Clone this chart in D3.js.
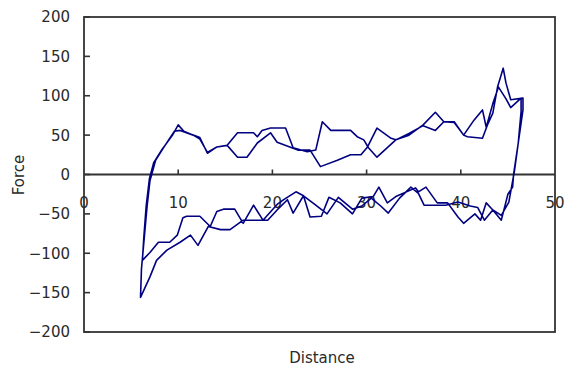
<!DOCTYPE html>
<html>
<head>
<meta charset="utf-8">
<script src="https://cdn.jsdelivr.net/npm/d3@7"></script>
<style>
    body { margin: 0; background: #fff; }
    text { font-family: "DejaVu Sans", sans-serif; font-size: 15px; fill: #2a2a2a; }
</style>
</head>
<body>
<div class="chart"></div>
<script>
const width = 567
const height = 367

// first push out, then back
const outDistance1 = [6.2, 6.35, 6.6, 6.95, 7.4, 8.3, 9.4, 10.0, 10.6, 11.6, 12.3, 13.1, 14.1, 15.2, 16.3, 18.0, 18.4, 18.9, 19.8, 21.4, 22.2, 23.7, 24.6, 25.3, 26.2, 28.3, 29.0, 29.7, 30.2, 31.1, 33.1, 34.5, 36.0, 37.3, 38.2, 39.3, 40.3, 41.4, 42.3, 42.7, 43.4, 44.0, 44.8, 45.3, 46.4, 46.4]
const outForce1 = [-109, -80, -40, -5, 15, 32, 50, 63, 55, 50, 47, 27, 35, 37, 53, 53, 48, 56, 59, 59, 34, 29, 31, 67, 56, 56, 48, 44, 34, 22, 44, 50, 63, 79, 67, 67, 50, 69, 82, 60, 90, 111, 96, 85, 97, 80]
const backDistance1 = [46.1, 45.6, 45.5, 45.0, 44.3, 43.4, 42.7, 42.1, 41.5, 40.3, 39.7, 38.6, 37.5, 36.3, 35.5, 35.2, 33.1, 32.2, 31.3, 30.7, 29.5, 28.5, 27.2, 26.0, 25.2, 24.0, 23.3, 22.2, 21.6, 20.5, 19.5, 18.0, 16.9, 15.5, 14.5, 13.2, 12.1, 11.3, 10.2, 8.8, 7.7, 7.0, 6.0]
const backForce1 = [40, 0, -16, -25, -58, -45, -36, -58, -50, -62, -54, -36, -36, -16, -22, -17, -28, -36, -16, -28, -30, -50, -36, -29, -53, -54, -27, -49, -32, -45, -58, -58, -58, -70, -70, -66, -90, -77, -86, -96, -109, -130, -156]

// second push out, then back
const outDistance2 = [6.1, 6.4, 6.7, 7.0, 7.6, 8.5, 9.6, 10.2, 11.6, 12.3, 13.1, 14.1, 15.2, 16.3, 17.3, 18.4, 19.8, 20.5, 22.7, 24.0, 25.1, 26.9, 28.3, 29.4, 30.1, 31.1, 32.6, 33.1, 34.5, 36.0, 37.3, 38.2, 39.3, 40.3, 40.7, 42.3, 42.9, 43.4, 43.9, 44.5, 44.8, 45.3, 46.6, 46.6]
const outForce2 = [-120, -80, -40, -8, 18, 35, 55, 56, 50, 45, 28, 35, 37, 22, 22, 40, 53, 41, 31, 31, 10, 18, 25, 25, 35, 59, 46, 44, 52, 62, 56, 67, 66, 50, 48, 46, 65, 78, 111, 135, 116, 95, 97, 82]
const backDistance2 = [46.1, 45.7, 45.4, 45.1, 44.3, 43.4, 42.5, 41.8, 41.0, 39.7, 38.4, 36.1, 35.5, 34.7, 33.5, 32.3, 31.5, 30.5, 29.5, 28.5, 27.0, 25.8, 24.5, 23.3, 22.5, 21.2, 20.5, 19.0, 18.0, 16.9, 16.0, 14.8, 14.1, 13.4, 12.3, 10.9, 10.5, 9.9, 9.1, 7.9, 7.0, 6.2]
const backForce2 = [40, 5, -15, -35, -52, -45, -58, -42, -40, -35, -39, -39, -24, -16, -30, -49, -40, -30, -40, -44, -29, -50, -38, -27, -22, -32, -38, -58, -39, -62, -44, -44, -47, -66, -53, -53, -55, -77, -86, -86, -99, -109]

const xTicks = [0, 10, 20, 30, 40, 50]
const yTicks = [-200, -150, -100, -50, 0, 50, 100, 150, 200]

const x = d3.scaleLinear().domain([0, 50]).range([84, 555])
const y = d3.scaleLinear().domain([-200, 200]).range([332, 17])

const svg = d3.select('.chart').append('svg').attr('width', width).attr('height', height)

// plot frame
svg.append('rect')
    .attr('x', x(0))
    .attr('y', y(200))
    .attr('width', x(50) - x(0))
    .attr('height', y(-200) - y(200))
    .attr('fill', 'none')
    .attr('stroke', '#333')
    .attr('stroke-width', 1.8)

// y ticks pointing inward
svg.selectAll('.ytick')
    .data(yTicks)
    .enter()
    .append('line')
    .attr('x1', x(0))
    .attr('x2', x(0) + 6)
    .attr('y1', d => y(d))
    .attr('y2', d => y(d))
    .attr('stroke', '#333')
    .attr('stroke-width', 1.6)

svg.selectAll('.ylabel')
    .data(yTicks)
    .enter()
    .append('text')
    .attr('x', 70)
    .attr('y', d => y(d))
    .attr('dy', '0.36em')
    .attr('text-anchor', 'end')
    .text(d => d < 0 ? '\u2212' + Math.abs(d) : d)

// axis at force = 0
svg.append('line')
    .attr('x1', x(0))
    .attr('x2', x(50))
    .attr('y1', y(0))
    .attr('y2', y(0))
    .attr('stroke', '#333')
    .attr('stroke-width', 1.8)

svg.selectAll('.xtick')
    .data(xTicks.slice(1, -1))
    .enter()
    .append('line')
    .attr('x1', d => x(d))
    .attr('x2', d => x(d))
    .attr('y1', y(0))
    .attr('y2', y(0) - 5)
    .attr('stroke', '#333')
    .attr('stroke-width', 1.6)

svg.selectAll('.xlabel')
    .data(xTicks)
    .enter()
    .append('text')
    .attr('x', d => x(d))
    .attr('y', y(0) + 33)
    .attr('text-anchor', 'middle')
    .text(d => d)

svg.append('text')
    .attr('x', 322)
    .attr('y', 363)
    .attr('text-anchor', 'middle')
    .text('Distance')

svg.append('text')
    .attr('transform', 'translate(24,175) rotate(-90)')
    .attr('text-anchor', 'middle')
    .text('Force')

// join the four strokes into one trace
const pts = []
const addStroke = (ds, fs) => ds.forEach((d, i) => pts.push([d, fs[i]]))
addStroke(outDistance1, outForce1)
addStroke(backDistance1, backForce1)
addStroke(outDistance2, outForce2)
addStroke(backDistance2, backForce2)

const line = d3.line().x(d => x(d[0])).y(d => y(d[1]))

svg.append('path')
    .datum(pts)
    .attr('d', line)
    .attr('fill', 'none')
    .attr('stroke', '#000080')
    .attr('stroke-width', 1.6)
    .attr('stroke-linejoin', 'round')
</script>
</body>
</html>
